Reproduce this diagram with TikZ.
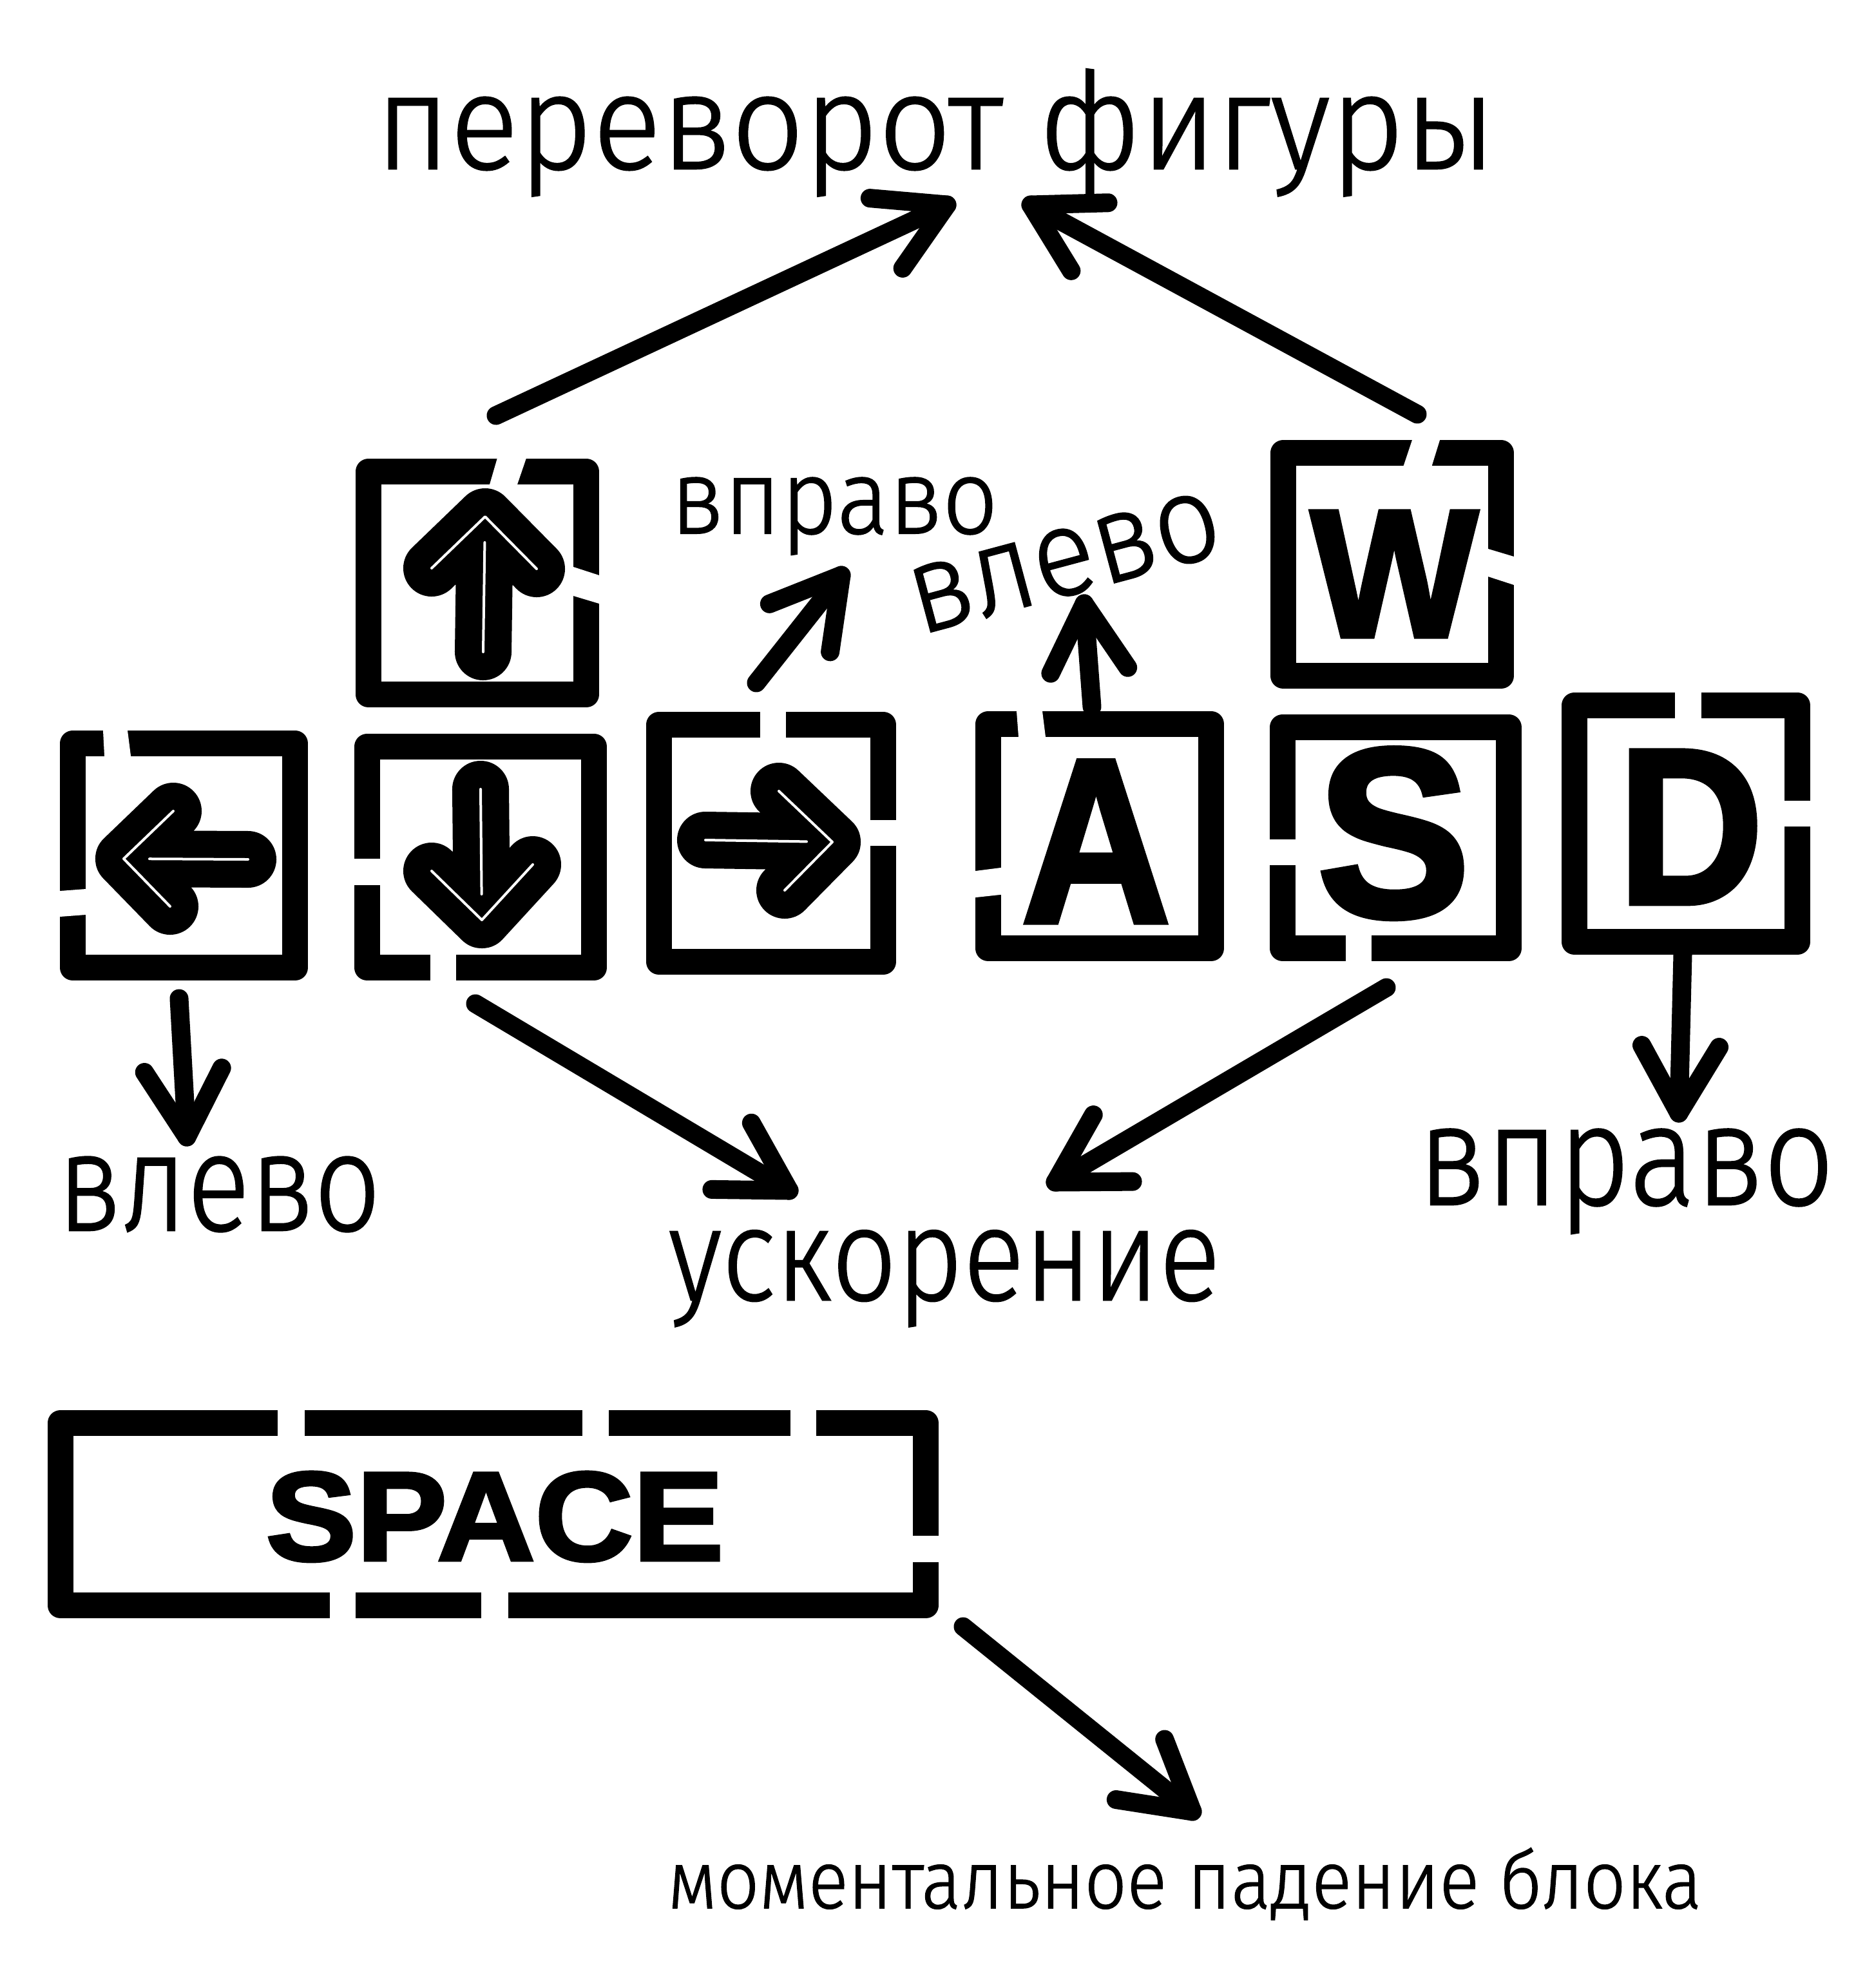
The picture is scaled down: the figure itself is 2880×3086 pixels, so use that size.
\documentclass[tikz,border=0pt]{standalone}
\usepackage{fontspec}
\usepackage{graphicx}
\setmainfont{Fira Sans}[UprightFont=* Light, UprightFeatures={FakeBold=1.2}]
\newfontfamily\keyfont{Liberation Sans}[FakeBold=2.5]
\usetikzlibrary{calc}
\newsavebox\fitbox
\newdimen\fitdw
\newdimen\fitdx
\newcommand\fitt[3]{%
  \sbox\fitbox{#3}%
  \fitdw=\wd\fitbox\relax
  \fitdx=\fontdimen5\font\relax
  \pgfmathsetmacro\fitsx{(#1)/\fitdw}%
  \pgfmathsetmacro\fitsy{(#2)/\fitdx}%
  \scalebox{\fitsx}[\fitsy]{\usebox\fitbox}}
\newcommand\keyletter[3]{\resizebox{#1}{#2}{\keyfont\bfseries #3}}
\newcommand\keyglyph[4]{%
  \draw[glyphb] #3 -- #1 -- #4 #2 -- #1;
  \draw[glyphw] #3 -- #1 -- #4;
  \draw[glyphw] #2 -- ($#1!0.4cm!#2$);}
\newcommand\conn[2]{%
  \draw[conn] (#1) -- (#2);
  \draw[conn] ($(#2)!1.2cm!30:(#1)$) -- (#2) -- ($(#2)!1.2cm!-30:(#1)$);}
\tikzset{
  keyk/.style={draw=black, line width=0.4cm, line join=round, inner sep=0pt},
  gapw/.style={fill=white, draw=none},
  glyphb/.style={black, line width=0.88cm, line cap=round, line join=round},
  glyphw/.style={white, line width=0.04cm, line cap=round, line join=round},
  conn/.style={black, line width=0.29cm, line cap=round, line join=round},
  lbl/.style={inner sep=0pt, anchor=base west, font=\fontsize{40}{48}\selectfont},
  letter/.style={inner sep=0pt, anchor=base west},
}
\begin{document}
\begin{tikzpicture}[x=0.01cm, y=-0.01cm]
\fill[white] (0,0) rectangle (2880,3086);
\useasboundingbox (0,0) rectangle (2880,3086);

% keys
\node[keyk, minimum width=3.38cm, minimum height=3.46cm] (kup) at (741,905) {};
\node[keyk, minimum width=3.45cm, minimum height=3.48cm] (kleft) at (285.5,1328) {};
\node[keyk, minimum width=3.52cm, minimum height=3.43cm] (kdown) at (746,1330.5) {};
\node[keyk, minimum width=3.48cm, minimum height=3.68cm] (kright) at (1197,1309) {};
\node[keyk, minimum width=3.46cm, minimum height=3.48cm] (kA) at (1707,1298) {};
\node[keyk, minimum width=3.51cm, minimum height=3.43cm] (kS) at (2166.5,1300.5) {};
\node[keyk, minimum width=3.46cm, minimum height=3.67cm] (kD) at (2617,1278.5) {};
\node[keyk, minimum width=3.38cm, minimum height=3.46cm] (kW) at (2161,876) {};
\node[keyk, minimum width=13.43cm, minimum height=2.83cm] (kspace) at (765.5,2350.5) {};

% gaps in the key frames
\fill[gapw] (774,704) -- (819.4,704) -- (800.3,760) -- (757.7,760) -- cycle;
\fill[gapw] (882,877.4) -- (938,895.6) -- (938,939.4) -- (882,922.6) -- cycle;
\fill[gapw] (2194.7,675) -- (2237.5,675) -- (2220.5,730) -- (2176.3,730) -- cycle;
\fill[gapw] (2302,849.6) -- (2358,866.4) -- (2358,910.6) -- (2302,892.4) -- cycle;
\fill[gapw] (159.6,1126) -- (197,1126) -- (204,1181) -- (162.4,1181) -- cycle;
\fill[gapw] (85,1383.6) -- (141,1379.4) -- (141,1419.4) -- (85,1423.6) -- cycle;
\fill[gapw] (542,1333) rectangle (598,1374);
\fill[gapw] (668,1475) rectangle (708,1530);
\fill[gapw] (1180,1097) rectangle (1220,1152);
\fill[gapw] (1343,1273) rectangle (1399,1313);
\fill[gapw] (1577.4,1096) -- (1617,1096) -- (1624,1152) -- (1581.6,1152) -- cycle;
\fill[gapw] (1506,1353) -- (1561,1346) -- (1561,1388) -- (1506,1394) -- cycle;
\fill[gapw] (1963,1303) rectangle (2019,1343);
\fill[gapw] (2089,1444) rectangle (2129,1500);
\fill[gapw] (2600,1067) rectangle (2641,1122);
\fill[gapw] (2763,1243) rectangle (2818,1283);
\fill[gapw] (431,2181) rectangle (473,2237);
\fill[gapw] (904,2181) rectangle (945,2237);
\fill[gapw] (1227,2181) rectangle (1267,2237);
\fill[gapw] (1409,2384) rectangle (1465,2425);
\fill[gapw] (512,2465) rectangle (552,2520);
\fill[gapw] (747,2465) rectangle (789,2520);

% arrow glyphs on the arrow keys
\keyglyph{(753,802)}{(750,1012)}{(670,882)}{(833,883)}
\keyglyph{(192,1333)}{(385,1334)}{(269,1259)}{(264,1407)}
\keyglyph{(748,1428)}{(746,1225)}{(670,1352)}{(827,1342)}
\keyglyph{(1292,1307)}{(1095,1304)}{(1209,1228)}{(1218,1382)}

% letters
\node[letter] (lA) at (1585,1431) {\keyletter{2.31cm}{2.49cm}{A}};
\node[letter] (lS) at (2044,1422) {\keyletter{2.37cm}{2.60cm}{S}};
\node[letter] (lD) at (2511,1402) {\keyletter{2.25cm}{2.36cm}{D}};
\node[letter] (lW) at (2034,988) {\keyletter{2.59cm}{1.94cm}{W}};
\node[letter] (lspace) at (412,2422) {\keyletter{7.10cm}{1.37cm}{SPACE}};

% labels
\node[lbl] (title) at (582,262) {\fitt{17.38cm}{1.09cm}{переворот фигуры}};
\node[lbl] (rightA) at (1040,828) {\fitt{5.08cm}{0.85cm}{вправо}};
\node[lbl, rotate=15] (leftA) at (1426,986) {\fitt{4.95cm}{1.00cm}{влево}};
\node[lbl] (leftB) at (88,1910) {\fitt{5.02cm}{1.12cm}{влево}};
\node[lbl] (accel) at (1037,2018) {\fitt{8.56cm}{1.06cm}{ускорение}};
\node[lbl] (rightB) at (2200,1870) {\fitt{6.46cm}{1.15cm}{вправо}};
\node[lbl] (drop) at (1036,2962) {\fitt{16.04cm}{0.66cm}{моментальное падение блока}};

% connector end points
\coordinate (a1s) at (770,645);   \coordinate (a1e) at (1470,318);
\coordinate (a2s) at (2200,643);  \coordinate (a2e) at (1600,318);
\coordinate (a3s) at (1174,1060); \coordinate (a3e) at (1306,893);
\coordinate (a4s) at (1695,1097); \coordinate (a4e) at (1683,937);
\coordinate (a5s) at (278,1550);  \coordinate (a5e) at (290,1765);
\coordinate (a6s) at (738,1558);  \coordinate (a6e) at (1225,1848);
\coordinate (a7s) at (2152,1533); \coordinate (a7e) at (1638,1835);
\coordinate (a8s) at (2612,1482); \coordinate (a8e) at (2606,1728);
\coordinate (a9s) at (1495,2525); \coordinate (a9e) at (1851,2812);

\conn{a1s}{a1e}
\conn{a2s}{a2e}
\conn{a3s}{a3e}
\conn{a4s}{a4e}
\conn{a5s}{a5e}
\conn{a6s}{a6e}
\conn{a7s}{a7e}
\conn{a8s}{a8e}
\conn{a9s}{a9e}
\end{tikzpicture}
\end{document}
